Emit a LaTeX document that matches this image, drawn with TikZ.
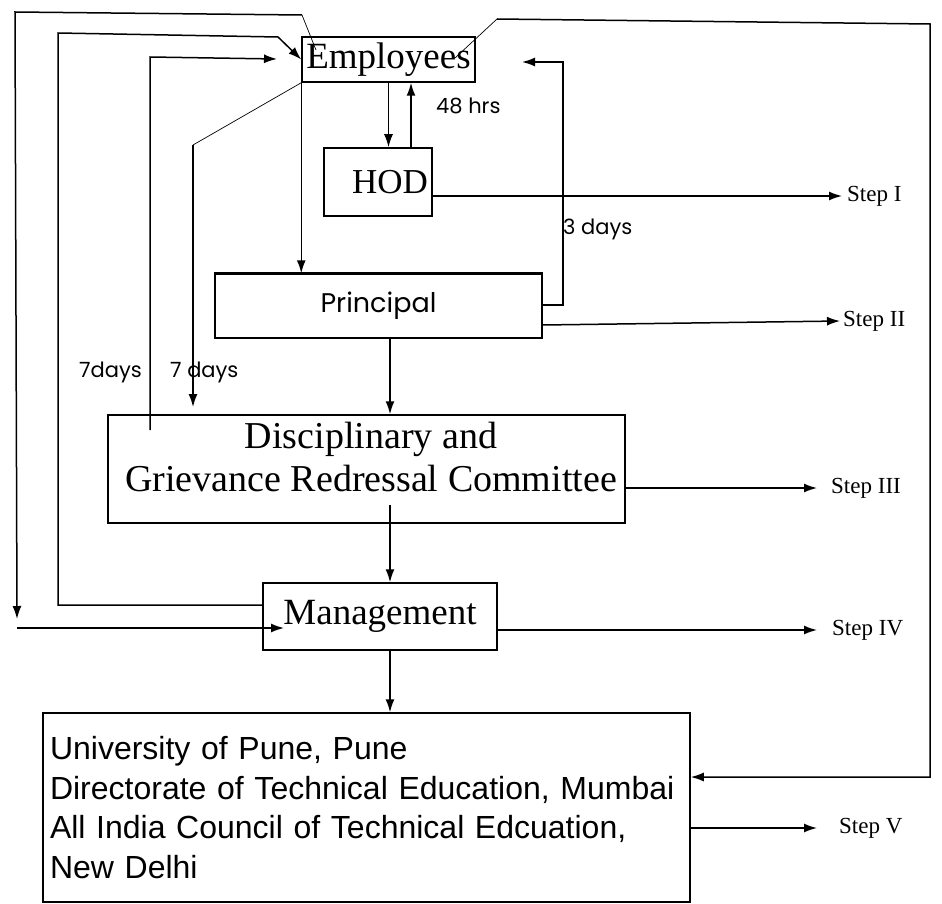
\documentclass[tikz,border=0pt]{standalone}
\usepackage{fontspec}
\setmainfont{Liberation Serif}
\newfontfamily\arialfont{Liberation Sans}
\newfontfamily\gothicfont{Poppins}
\usetikzlibrary{arrows.meta}

\begin{document}
\begin{tikzpicture}[x=1pt,y=-1pt,
    box/.style={draw,line width=1.5pt,inner sep=0pt},
    flow/.style={line width=1.5pt,-{Latex[length=13pt,width=9pt]}},
    thinline/.style={line width=0.7pt},
    stagelbl/.style={anchor=west,inner sep=0pt,font=\fontsize{23}{26}\selectfont},
    timelbl/.style={inner sep=0pt,font=\gothicfont\fontsize{21}{24}\selectfont}]

    \useasboundingbox (0,0) rectangle (942,904);

    % Boxes
    \node[box,minimum width=173pt,minimum height=45pt,font=\fontsize{37}{40}\selectfont] (emp) at (388.5,59.5) {Employees};
    \node[box,minimum width=108pt,minimum height=68pt,text width=100pt,align=right,font=\fontsize{35}{38}\selectfont] (hod) at (378,182) {HOD};
    \node[box,minimum width=327pt,minimum height=64pt,font=\gothicfont\fontsize{27}{30}\selectfont] (prin) at (378.5,306) {Principal};
    \draw[line width=2.8pt] (prin.north west) -- (prin.north east);
    \node[box,minimum width=517pt,minimum height=108pt] (dgrc) at (366.5,469) {};
    \node[align=center,inner sep=0pt,font=\fontsize{38}{43}\selectfont] (dgrctext) at (371,457) {Disciplinary and\\Grievance Redressal Committee};
    \node[box,minimum width=234pt,minimum height=67pt,font=\fontsize{37}{40}\selectfont] (mgmt) at (380,616.5) {Management};
    \node[box,minimum width=647pt,minimum height=189pt,text width=633pt,align=left,font=\arialfont\fontsize{32}{39.5}\selectfont] (univ) at (366.5,807.5) {University of Pune, Pune\\Directorate of Technical Education, Mumbai\\All India Council of Technical Edcuation,\\New Delhi};

    % Steps
    \node[stagelbl] (s1) at (847,196) {Step I};
    \node[stagelbl] (s2) at (843,321) {Step II};
    \node[stagelbl] (s3) at (831,488) {Step III};
    \node[stagelbl] (s4) at (832,630) {Step IV};
    \node[stagelbl] (s5) at (839,828) {Step V};

    \draw[flow] (hod.east |- s1.west) -- ([xshift=-5pt]s1.west);
    \draw[flow] (prin.east |- 0,325) -- ([xshift=-3pt]s2.west);
    \draw[flow] (dgrc.east |- s3.west) -- ([xshift=-14pt]s3.west);
    \draw[flow] (mgmt.east |- s4.west) -- ([xshift=-15pt]s4.west);
    \draw[flow] (univ.east |- s5.west) -- ([xshift=-22pt]s5.west);

    % Downward chain
    \draw[flow] (emp.south) -- (emp.south |- hod.north);
    \draw[flow] (hod.north -| 411,0) -- (emp.south -| 411,0);
    \node[timelbl,anchor=west] (hrs) at (436,106) {48 hrs};
    \draw[flow] (emp.south west) -- (emp.south west |- prin.north);
    \draw[flow] (prin.south -| 390,0) -- (dgrc.north -| 390,0);
    \draw[flow] (390,505) -- (mgmt.north -| 390,0);
    \draw[flow] (mgmt.south -| 390,0) -- (univ.north -| 390,0);

    % Principal back to employees
    \coordinate (back) at (522,62);
    \draw[flow] (prin.east |- 0,305) -| (563,62) -- (back);
    \node[timelbl,anchor=west] (three) at (563,229) {3 days};

    % Employees to university
    \draw[thinline] (455,58) -- (497,19);
    \draw[flow] (497,19) -- (930,24) -- (930,777) -- (univ.east |- 0,777);

    % Employees to management
    \draw[thinline] (316,50) -- (302,15);
    \draw[flow] (302,15) -- (15,12) -- (17,619);
    \draw[flow] (17,628) -- (284,628);

    % Management back to employees
    \draw[flow] (mgmt.west |- 0,605) -- (58,605) -- (58,33) -- (278,37) -- (emp.west);

    % Committee back to employees
    \draw[flow] (150,430) -- (150,57) -- (277,59);
    \node[timelbl,anchor=east] (sevena) at (142,372) {7days};

    % Employees to committee
    \draw[thinline] (emp.south west) -- (193,145);
    \draw[flow] (193,145) -- (193,407);
    \node[timelbl,anchor=west] (sevenb) at (170,372) {7 days};

\end{tikzpicture}
\end{document}
